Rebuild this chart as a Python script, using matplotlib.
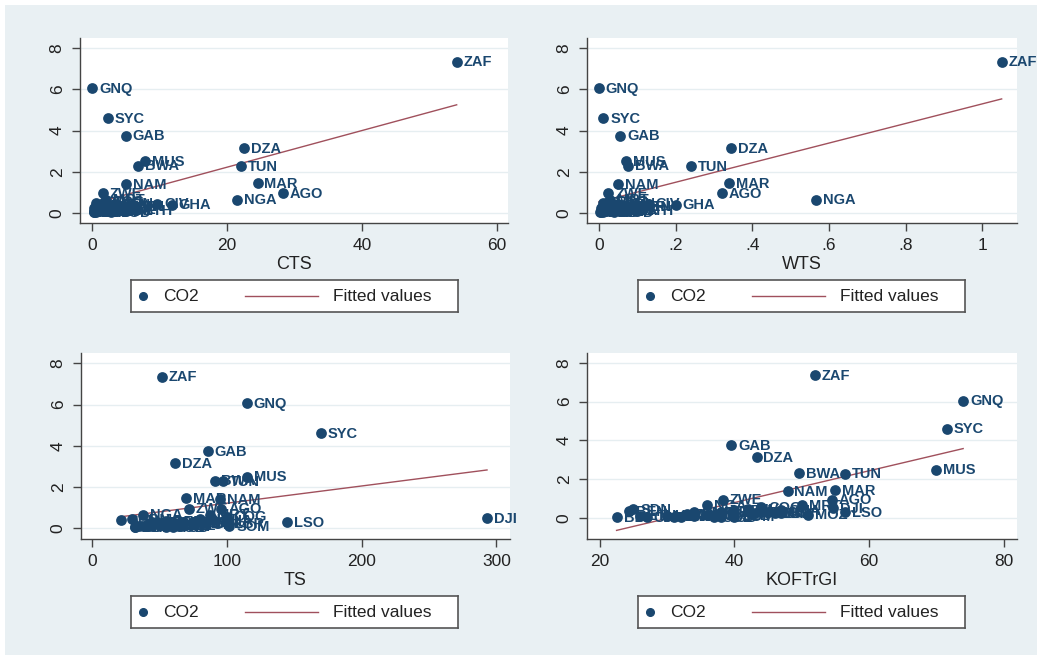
import numpy as np
import matplotlib
matplotlib.use("Agg")
import matplotlib.pyplot as plt
from matplotlib.patches import Rectangle

plt.rcParams['font.family'] = ['Liberation Sans', 'DejaVu Sans']

# country codes and CO2 per capita
countries = ["ZAF", "GNQ", "SYC", "GAB", "DZA", "MUS", "BWA", "TUN", "NAM", "MAR",
             "AGO", "NGA", "ZWE", "GHA", "DJI", "LSO", "SOM", "MOZ", "SEN", "BEN",
             "CIV", "CMR", "KEN", "TZA", "UGA", "ETH", "RWA", "BDI", "MWI", "ZMB",
             "MDG", "MLI", "BFA", "NER", "TCD", "GIN", "SLE", "LBR", "TGO", "GMB",
             "MRT", "SDN", "COG", "COD", "CAF"]
co2 = [7.35, 6.05, 4.6, 3.75, 3.15, 2.5, 2.3, 2.28, 1.4, 1.45,
       0.95, 0.65, 0.95, 0.4, 0.5, 0.3, 0.08, 0.18, 0.4, 0.35,
       0.45, 0.3, 0.3, 0.2, 0.12, 0.12, 0.08, 0.03, 0.08, 0.3,
       0.13, 0.15, 0.18, 0.1, 0.05, 0.25, 0.12, 0.25, 0.3, 0.25,
       0.65, 0.45, 0.55, 0.03, 0.05]
cts = [54, 0.0, 2.3, 5.0, 22.5, 7.8, 6.8, 22.0, 5.0, 24.5,
       28.2, 21.5, 1.6, 11.8, 0.5, 1.0, 0.2, 3.5, 3.2, 1.8,
       9.6, 4.5, 5.0, 4.0, 3.0, 6.5, 0.8, 0.3, 1.2, 4.0,
       1.5, 2.5, 2.0, 1.0, 0.6, 1.5, 0.5, 0.4, 1.0, 0.3,
       2.0, 3.5, 1.8, 2.8, 0.2]
wts = [1.05, 0.0, 0.012, 0.055, 0.345, 0.07, 0.075, 0.24, 0.05, 0.34,
       0.32, 0.565, 0.025, 0.2, 0.01, 0.02, 0.005, 0.05, 0.04, 0.025,
       0.13, 0.07, 0.09, 0.06, 0.05, 0.1, 0.01, 0.005, 0.02, 0.06,
       0.02, 0.04, 0.03, 0.015, 0.01, 0.02, 0.01, 0.008, 0.015, 0.005,
       0.03, 0.05, 0.025, 0.04, 0.003]
ts = [52, 115, 170, 86, 61.5, 115, 91, 97, 95, 70,
      96, 38, 72, 90, 293, 145, 102, 75, 22, 55,
      80, 45, 48, 42, 44, 35, 40, 32, 60, 78,
      58, 52, 50, 38, 60, 85, 66, 100, 68, 66,
      88, 30, 100, 55, 32]
kof = [52, 74, 71.6, 39.5, 43.3, 69.9, 49.6, 56.4, 47.9, 54.9,
       54.5, 36, 38.3, 47, 54.7, 56.4, 40, 51, 40, 24.3,
       42, 34, 38, 33, 30, 26, 32, 22.5, 31, 45,
       34, 36, 37, 30, 38, 47, 40, 46, 44, 43,
       50, 25, 44, 37, 27]

panels = [
    ("CTS", cts, [0, 20, 40, 60], ["0", "20", "40", "60"], (-1.8, 61.6), (-0.49, 8.49)),
    ("WTS", wts, [0, .2, .4, .6, .8, 1], ["0", ".2", ".4", ".6", ".8", "1"], (-0.031, 1.09), (-0.49, 8.49)),
    ("TS", ts, [0, 100, 200, 300], ["0", "100", "200", "300"], (-8, 310), (-0.53, 8.5)),
    ("KOFTrGI", kof, [20, 40, 60, 80], ["20", "40", "60", "80"], (18.1, 82), (-1.08, 8.5)),
]
ax_pos = [(0.0768, 0.6621, 0.4107, 0.2803), (0.5633, 0.6621, 0.4127, 0.2803),
          (0.0777, 0.1833, 0.4117, 0.2818), (0.5633, 0.1833, 0.4127, 0.2818)]
leg_pos = [(0.1257, 0.5273, 0.3138, 0.0485), (0.6123, 0.5273, 0.3138, 0.0485),
           (0.1257, 0.0485, 0.3138, 0.0485), (0.6123, 0.0485, 0.3138, 0.0485)]

navy = "#1a476f"
maroon = "#a0505c"
bg = "#e9f0f3"

fig = plt.figure(figsize=(10.42, 6.60), dpi=100, facecolor="white")
fig.add_artist(Rectangle((5 / 1042, 5 / 660), 1032 / 1042, 650 / 660,
                         transform=fig.transFigure, facecolor=bg, edgecolor="none", zorder=-10))

y = np.array(co2)
for (name, xv, xt, xtl, xl, yl), pos, lpos in zip(panels, ax_pos, leg_pos):
    x = np.array(xv, dtype=float)
    ax = fig.add_axes(pos)
    ax.set_facecolor("white")
    for yt in [0, 2, 4, 6, 8]:
        ax.axhline(yt, color="#e6eef1", lw=1.0, zorder=0)
    ax.scatter(x, y, s=60, color=navy, zorder=3, linewidths=0)
    for c, xi, yi in zip(countries, x, y):
        ax.annotate(c, (xi, yi), xytext=(5, -0.5), textcoords="offset points",
                    va="center", ha="left", fontsize=10.5, fontweight="bold",
                    color=navy, zorder=4, annotation_clip=False)
    b, a = np.polyfit(x, y, 1)
    xs = np.array([x.min(), x.max()])
    ax.plot(xs, a + b * xs, color=maroon, lw=1.0, zorder=2)

    ax.set_xlim(*xl)
    ax.set_ylim(*yl)
    ax.set_xticks(xt)
    ax.set_xticklabels(xtl)
    ax.set_yticks([0, 2, 4, 6, 8])
    ax.set_yticklabels(["0", "2", "4", "6", "8"], rotation=90, va="center")
    ax.tick_params(axis="both", direction="out", length=6, width=1, color="#444444",
                   labelsize=12.5, labelcolor="#222222", pad=5)
    for s in ["top", "right"]:
        ax.spines[s].set_visible(False)
    for s in ["left", "bottom"]:
        ax.spines[s].set_color("#444444")
        ax.spines[s].set_linewidth(1.0)
    ax.set_xlabel(name, fontsize=13, color="#222222", labelpad=2)

    # legend box
    lg = fig.add_axes(lpos)
    lg.set_xlim(0, 1)
    lg.set_ylim(0, 1)
    lg.set_xticks([])
    lg.set_yticks([])
    lg.set_facecolor("white")
    for s in lg.spines.values():
        s.set_color("#555555")
        s.set_linewidth(1.2)
    lg.plot([0.037], [0.5], "o", color=navy, ms=5.5)
    lg.text(0.098, 0.48, "CO2", va="center", ha="left", fontsize=12.5, color="#222222")
    lg.plot([0.349, 0.572], [0.5, 0.5], color=maroon, lw=1.0)
    lg.text(0.618, 0.48, "Fitted values", va="center", ha="left", fontsize=12.5, color="#222222")

fig.savefig("out.png", dpi=100, facecolor=fig.get_facecolor())
